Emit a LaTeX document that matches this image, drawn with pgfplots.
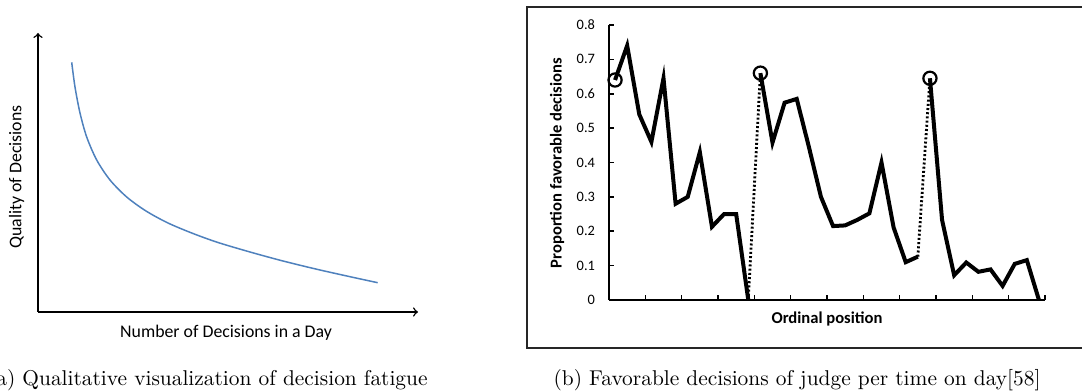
\documentclass[border=0pt]{standalone}
\usepackage{fontspec}
\newfontfamily\carlito{Carlito}
\usepackage{pgfplots}
\pgfplotsset{compat=1.18}
\definecolor{officeblue}{HTML}{4F81BD}
\begin{document}
\begin{tikzpicture}
\useasboundingbox (0pt,0pt) rectangle (541pt,195.5pt);
\begin{scope}
\clip (0pt,0pt) rectangle (541pt,195.5pt);
\coordinate (LA) at (19pt,39.5pt);
\coordinate (RA) at (304.5pt,45.5pt);
% ---------- left panel ----------
\begin{axis}[
  at={(LA)}, anchor=south west,
  scale only axis, width=190pt, height=139.5pt,
  xmin=0, xmax=380, ymin=0, ymax=279,
  axis x line=bottom, axis y line=left,
  axis line style={line width=0.75pt, -to},
  ticks=none,
  xlabel={Number of Decisions in a Day},
  ylabel={Quality of Decisions},
  label style={font=\carlito\fontsize{8.9}{10}\selectfont},
  xlabel style={at={(axis description cs:0.495,-0.074)}, anchor=center},
  ylabel style={at={(axis description cs:-0.056,0.484)}, anchor=center},
]
\addplot[officeblue, line width=0.75pt, smooth] coordinates {
(33.7,249.7)(37,225)(42,199)(48.7,175)(58.7,152)(72,132)(88.7,115)(108,101)
(130,89)(155,78.5)(180,69.5)(212,60)(245,51)(279,42.7)(312,35.3)(339.7,29.3)};
\end{axis}
% ---------- right panel ----------
\draw[line width=0.6pt, black!85] (263.5pt,21.5pt) rectangle (560pt,192pt);
\begin{axis}[
  at={(RA)}, anchor=south west,
  scale only axis, width=218pt, height=137.5pt,
  xmin=0, xmax=36, ymin=0, ymax=0.8,
  clip=false,
  axis x line=bottom, axis y line=left,
  axis line style={line width=1pt, -},
  tick align=inside, major tick length=2.5pt,
  tick style={line width=0.8pt, black},
  xtick={0,3,...,36}, xticklabels={},
  ytick={0,0.1,0.2,0.3,0.4,0.5,0.6,0.7,0.8},
  yticklabels={0,0.1,0.2,0.3,0.4,0.5,0.6,0.7,0.8},
  /pgf/number format/assume math mode=true,
  yticklabel style={font=\carlito\fontsize{7.2}{8}\selectfont, anchor=east, xshift=-3.5pt},
  xlabel={Ordinal position},
  ylabel={Proportion favorable decisions},
  label style={font=\carlito\bfseries\fontsize{8.3}{9}\selectfont},
  xlabel style={at={(axis description cs:0.5,-0.069)}, anchor=center},
  ylabel style={at={(axis description cs:-0.119,0.498)}, anchor=center},
]
\addplot[black, line width=2pt] coordinates {
(0.5,0.64)(1.5,0.74)(2.5,0.54)(3.5,0.46)(4.5,0.645)(5.5,0.28)(6.5,0.30)(7.5,0.43)(8.5,0.213)(9.5,0.25)(10.5,0.25)(11.5,0)};
\addplot[black, line width=1.4pt, dash pattern=on 1pt off 1.1pt] coordinates {(11.5,0)(12.5,0.66)};
\addplot[black, line width=2pt] coordinates {
(12.5,0.66)(13.5,0.458)(14.5,0.574)(15.5,0.585)(16.5,0.446)(17.5,0.30)(18.5,0.215)(19.5,0.217)(20.5,0.233)(21.5,0.252)(22.5,0.40)(23.5,0.211)(24.5,0.11)(25.5,0.126)};
\addplot[black, line width=1.4pt, dash pattern=on 1pt off 1.1pt] coordinates {(25.5,0.126)(26.5,0.645)};
\addplot[black, line width=2pt] coordinates {
(26.5,0.645)(27.5,0.233)(28.5,0.072)(29.5,0.109)(30.5,0.082)(31.5,0.089)(32.5,0.041)(33.5,0.105)(34.5,0.116)(35.5,0)};
\addplot[only marks, mark=o, mark size=3.3pt, mark options={line width=1.1pt, black}] coordinates {
(0.5,0.64)(12.5,0.66)(26.5,0.645)};
\end{axis}
% ---------- captions ----------
\node[anchor=base east, inner sep=0pt, font=\fontsize{10.7}{12}\selectfont] at (214pt,2.5pt) {(a) Qualitative visualization of decision fatigue};
\node[anchor=base, inner sep=0pt, font=\fontsize{10.7}{12}\selectfont] at (398.5pt,2.5pt) {(b) Favorable decisions of judge per time on day[58]};
\end{scope}
\end{tikzpicture}
\end{document}
